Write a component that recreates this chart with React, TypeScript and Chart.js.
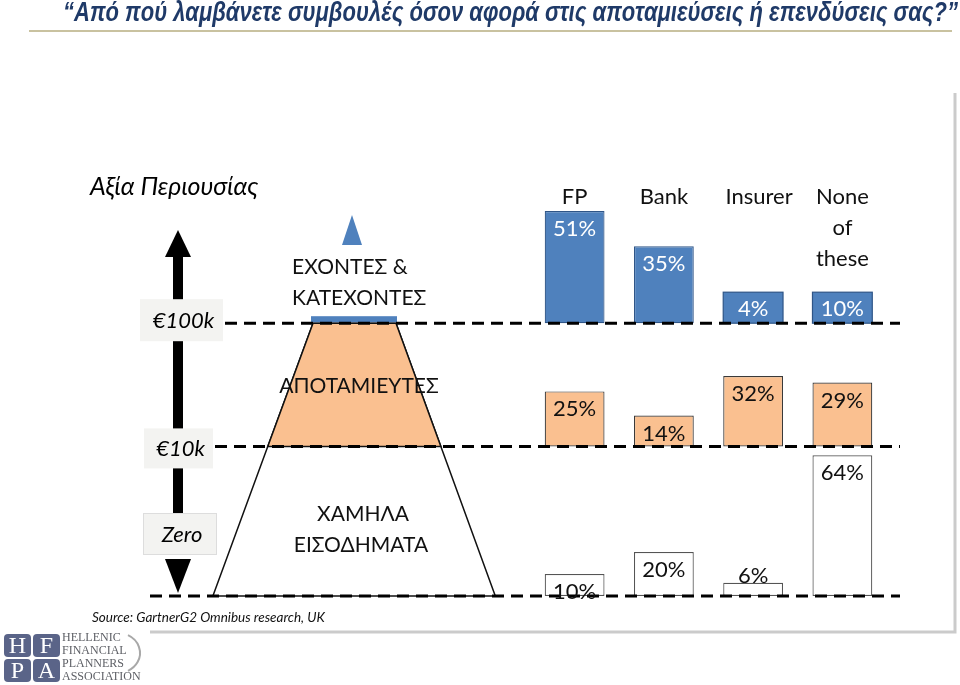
import React, { useEffect, useRef } from "react";
import { Chart, registerables } from "chart.js";

Chart.register(...registerables);

// ---- data ----
const categories = ["FP", "Bank", "Insurer", "None of these"];
const categoryLines = [["FP"], ["Bank"], ["Insurer"], ["None", "of", "these"]];
const wealthyShares = [51, 35, 4, 10]; // ΕΧΟΝΤΕΣ & ΚΑΤΕΧΟΝΤΕΣ (> €100k)
const saverShares = [25, 14, 32, 29]; // ΑΠΟΤΑΜΙΕΥΤΕΣ (€10k – €100k)
const lowIncomeShares = [10, 20, 6, 64]; // ΧΑΜΗΛΑ ΕΙΣΟΔΗΜΑΤΑ (< €10k)
const tierLabels = ["€100k", "€10k", "Zero"];
const segmentNames = [["ΕΧΟΝΤΕΣ &", "ΚΑΤΕΧΟΝΤΕΣ"], ["ΑΠΟΤΑΜΙΕΥΤΕΣ"], ["ΧΑΜΗΛΑ", "ΕΙΣΟΔΗΜΑΤΑ"]];
const titleText = "“Από πού λαμβάνετε συμβουλές όσον αφορά στις αποταμιεύσεις ή επενδύσεις σας?”";
const axisTitle = "Αξία Περιουσίας";
const sourceText = "Source: GartnerG2 Omnibus research, UK";
const logoLines = ["HELLENIC", "FINANCIAL", "PLANNERS", "ASSOCIATION"];

// vertical stacking of the three tiers (row baselines, in % units of the shared axis)
const rowBases = [124, 68, 0];
const Y_MAX = 180;

const BLUE = "#4F81BD";
const PEACH = "#FAC090";
const FONT = "Lato, 'Open Sans', sans-serif";

const floating = (vals: number[], base: number) => vals.map((v) => [base, base + v]);

const rows = [
  { values: wealthyShares, base: rowBases[0], bg: BLUE, border: "#2F5587", text: "#ffffff" },
  { values: saverShares, base: rowBases[1], bg: PEACH, border: "#3a3a3a", text: "#111111" },
  { values: lowIncomeShares, base: rowBases[2], bg: "#ffffff", border: "#555555", text: "#111111" },
];

const decor = {
  id: "decor",
  beforeDatasetsDraw(chart: any) {
    const ctx: CanvasRenderingContext2D = chart.ctx;
    const ys = chart.scales.y;
    const yA = ys.getPixelForValue(rowBases[0]);
    const yB = ys.getPixelForValue(rowBases[1]);
    const yC = ys.getPixelForValue(rowBases[2]);
    ctx.save();

    // title
    ctx.font = `bold italic 27px 'Liberation Sans', Arial, sans-serif`;
    ctx.fillStyle = "#1F3A68";
    ctx.textBaseline = "middle";
    ctx.textAlign = "left";
    const tw = ctx.measureText(titleText).width;
    ctx.save();
    ctx.translate(63, 14);
    ctx.scale(895 / tw, 1);
    ctx.fillText(titleText, 0, 0);
    ctx.restore();

    // tan rule under title
    ctx.strokeStyle = "#C9C2A0";
    ctx.lineWidth = 2;
    ctx.beginPath();
    ctx.moveTo(29, 31);
    ctx.lineTo(952, 31);
    ctx.stroke();

    // gray frame (right + bottom)
    ctx.strokeStyle = "#CBCBCB";
    ctx.lineWidth = 3;
    ctx.beginPath();
    ctx.moveTo(955, 93);
    ctx.lineTo(955, 632);
    ctx.lineTo(150, 632);
    ctx.stroke();

    // pyramid
    const xL = (y: number) => 313 - (y - yA) * 0.367;
    const xR = (y: number) => 396 + (y - yA) * 0.364;
    ctx.lineWidth = 1.5;
    ctx.strokeStyle = "#111";
    ctx.fillStyle = "#ffffff";
    ctx.beginPath();
    ctx.moveTo(xL(yA), yA);
    ctx.lineTo(xR(yA), yA);
    ctx.lineTo(xR(yC), yC);
    ctx.lineTo(xL(yC), yC);
    ctx.closePath();
    ctx.fill();
    ctx.stroke();
    ctx.fillStyle = PEACH;
    ctx.beginPath();
    ctx.moveTo(xL(yA), yA);
    ctx.lineTo(xR(yA), yA);
    ctx.lineTo(xR(yB), yB);
    ctx.lineTo(xL(yB), yB);
    ctx.closePath();
    ctx.fill();
    ctx.stroke();
    ctx.fillStyle = BLUE;
    ctx.fillRect(311, yA - 7, 86, 6);
    // small triangle on top
    ctx.beginPath();
    ctx.moveTo(352, 215);
    ctx.lineTo(362, 245);
    ctx.lineTo(342, 245);
    ctx.closePath();
    ctx.fill();

    // pyramid texts
    ctx.fillStyle = "#111";
    ctx.font = `21px ${FONT}`;
    ctx.textAlign = "left";
    ctx.fillText(segmentNames[0][0], 292, 267);
    ctx.fillText(segmentNames[0][1], 292, 298);
    ctx.textAlign = "center";
    ctx.fillText(segmentNames[1][0], 359, 386);
    ctx.fillText(segmentNames[2][0], 363, 514);
    ctx.fillText(segmentNames[2][1], 361, 545);

    // wealth axis
    ctx.fillStyle = "#000";
    ctx.font = `italic 25px ${FONT}`;
    ctx.textAlign = "left";
    ctx.fillText(axisTitle, 90, 187);
    const ax = 178;
    ctx.fillRect(ax - 5, 254, 10, 300);
    ctx.beginPath();
    ctx.moveTo(ax, 230);
    ctx.lineTo(ax + 13, 257);
    ctx.lineTo(ax - 13, 257);
    ctx.closePath();
    ctx.fill();
    ctx.beginPath();
    ctx.moveTo(ax, 593);
    ctx.lineTo(ax + 13, 559);
    ctx.lineTo(ax - 13, 559);
    ctx.closePath();
    ctx.fill();
    const boxes = [
      { x: 140, w: 83, y: yA - 24, h: 42 },
      { x: 144, w: 69, y: yB - 18, h: 40 },
      { x: 143, w: 74, y: 513, h: 42 },
    ];
    boxes.forEach((b, i) => {
      ctx.fillStyle = "#F3F3F1";
      ctx.fillRect(b.x, b.y, b.w, b.h);
      if (i === 2) {
        ctx.strokeStyle = "#DDDDDD";
        ctx.lineWidth = 1;
        ctx.strokeRect(b.x + 0.5, b.y + 0.5, b.w - 1, b.h - 1);
      }
      ctx.fillStyle = "#000";
      ctx.textAlign = "center";
      ctx.font = `italic 22px ${FONT}`;
      ctx.fillText(tierLabels[i], b.x + b.w / 2 + 2, b.y + b.h / 2 + 1);
    });

    // source
    ctx.font = `italic 13.5px ${FONT}`;
    ctx.textAlign = "left";
    ctx.fillStyle = "#111";
    ctx.fillText(sourceText, 92, 618);

    // logo
    const letters = ["H", "F", "P", "A"];
    letters.forEach((l, i) => {
      const bx = 4 + (i % 2) * 29;
      const by = 634 + Math.floor(i / 2) * 25;
      ctx.fillStyle = "#5A6488";
      ctx.beginPath();
      (ctx as any).roundRect(bx, by, 27, 23, 4);
      ctx.fill();
      ctx.fillStyle = "#ffffff";
      ctx.font = `24px 'Liberation Serif', serif`;
      ctx.textAlign = "center";
      ctx.fillText(l, bx + 13.5, by + 12.5);
    });
    ctx.fillStyle = "#5E6066";
    ctx.font = `12px 'Liberation Serif', serif`;
    ctx.textAlign = "left";
    logoLines.forEach((t, i) => ctx.fillText(t, 62, 638 + i * 13));
    ctx.strokeStyle = "#A8A8A8";
    ctx.lineWidth = 2;
    ctx.beginPath();
    ctx.ellipse(118, 653, 22, 20, 0, -1.1, 1.1);
    ctx.stroke();

    ctx.restore();
  },
  afterDatasetsDraw(chart: any) {
    const ctx: CanvasRenderingContext2D = chart.ctx;
    const ys = chart.scales.y;
    const yA = ys.getPixelForValue(rowBases[0]);
    const yB = ys.getPixelForValue(rowBases[1]);
    const yC = ys.getPixelForValue(rowBases[2]);
    ctx.save();

    ctx.textAlign = "center";
    ctx.textBaseline = "middle";
    ctx.font = `22px ${FONT}`;

    // label boxes for short top-tier bars (text boxes in the original)
    const meta0 = chart.getDatasetMeta(0);
    meta0.data.forEach((bar: any) => {
      const ly = Math.min(bar.y + 18, bar.base - 14);
      bar.$labelY = ly;
      if (ly - 17 < bar.y) {
        const w = bar.width;
        ctx.fillStyle = rows[0].bg;
        ctx.strokeStyle = rows[0].border;
        ctx.lineWidth = 1.2;
        ctx.fillRect(bar.x - w / 2, ly - 17, w, bar.base - (ly - 17));
        ctx.strokeRect(bar.x - w / 2, ly - 17, w, bar.base - (ly - 17));
      }
    });

    // dashed tier lines
    ctx.strokeStyle = "#000";
    ctx.lineWidth = 3;
    ctx.setLineDash([12, 7]);
    [
      [225, yA],
      [215, yB],
      [150, yC],
    ].forEach(([x0, y]) => {
      ctx.beginPath();
      ctx.moveTo(x0, y);
      ctx.lineTo(900, y);
      ctx.stroke();
    });
    ctx.setLineDash([]);

    // value labels
    rows.forEach((row, ri) => {
      const meta = chart.getDatasetMeta(ri);
      meta.data.forEach((bar: any, i: number) => {
        const top = bar.y;
        const h = bar.base - top;
        let ly: number;
        if (ri === 0) ly = bar.$labelY;
        else if (h < 16) ly = top - 7;
        else ly = top + 18;
        ctx.fillStyle = row.text;
        ctx.fillText(`${row.values[i]}%`, bar.x, ly);
      });
    });

    // category headers
    ctx.fillStyle = "#111";
    categoryLines.forEach((lines, i) => {
      const x = meta0.data[i].x;
      lines.forEach((t, j) => ctx.fillText(t, x + (i === 2 ? 6 : 0), 197 + j * 31));
    });
    ctx.restore();
  },
};

export default function App() {
  const ref = useRef<HTMLCanvasElement>(null);
  useEffect(() => {
    const canvas = ref.current!;
    const chart = new Chart(canvas, {
      type: "bar",
      data: {
        labels: categories,
        datasets: rows.map((r) => ({
          data: floating(r.values, r.base) as any,
          backgroundColor: r.bg,
          borderColor: r.border,
          borderWidth: 1.2,
          borderSkipped: false,
          grouped: false,
          barPercentage: 0.67,
          categoryPercentage: 1,
        })),
      },
      options: {
        responsive: false,
        animation: false,
        devicePixelRatio: 1,
        layout: { padding: { left: 530, right: 73, top: 200, bottom: 89 } },
        scales: {
          x: { display: false },
          y: { display: false, min: 0, max: Y_MAX },
        },
        plugins: { legend: { display: false }, tooltip: { enabled: false } },
      },
      plugins: [decor],
    });
    return () => chart.destroy();
  }, []);
  return (
    <div style={{ position: "absolute", left: 0, top: 0, width: 960, height: 685, background: "#fff" }}>
      <canvas ref={ref} width={960} height={685} style={{ display: "block" }} />
    </div>
  );
}
